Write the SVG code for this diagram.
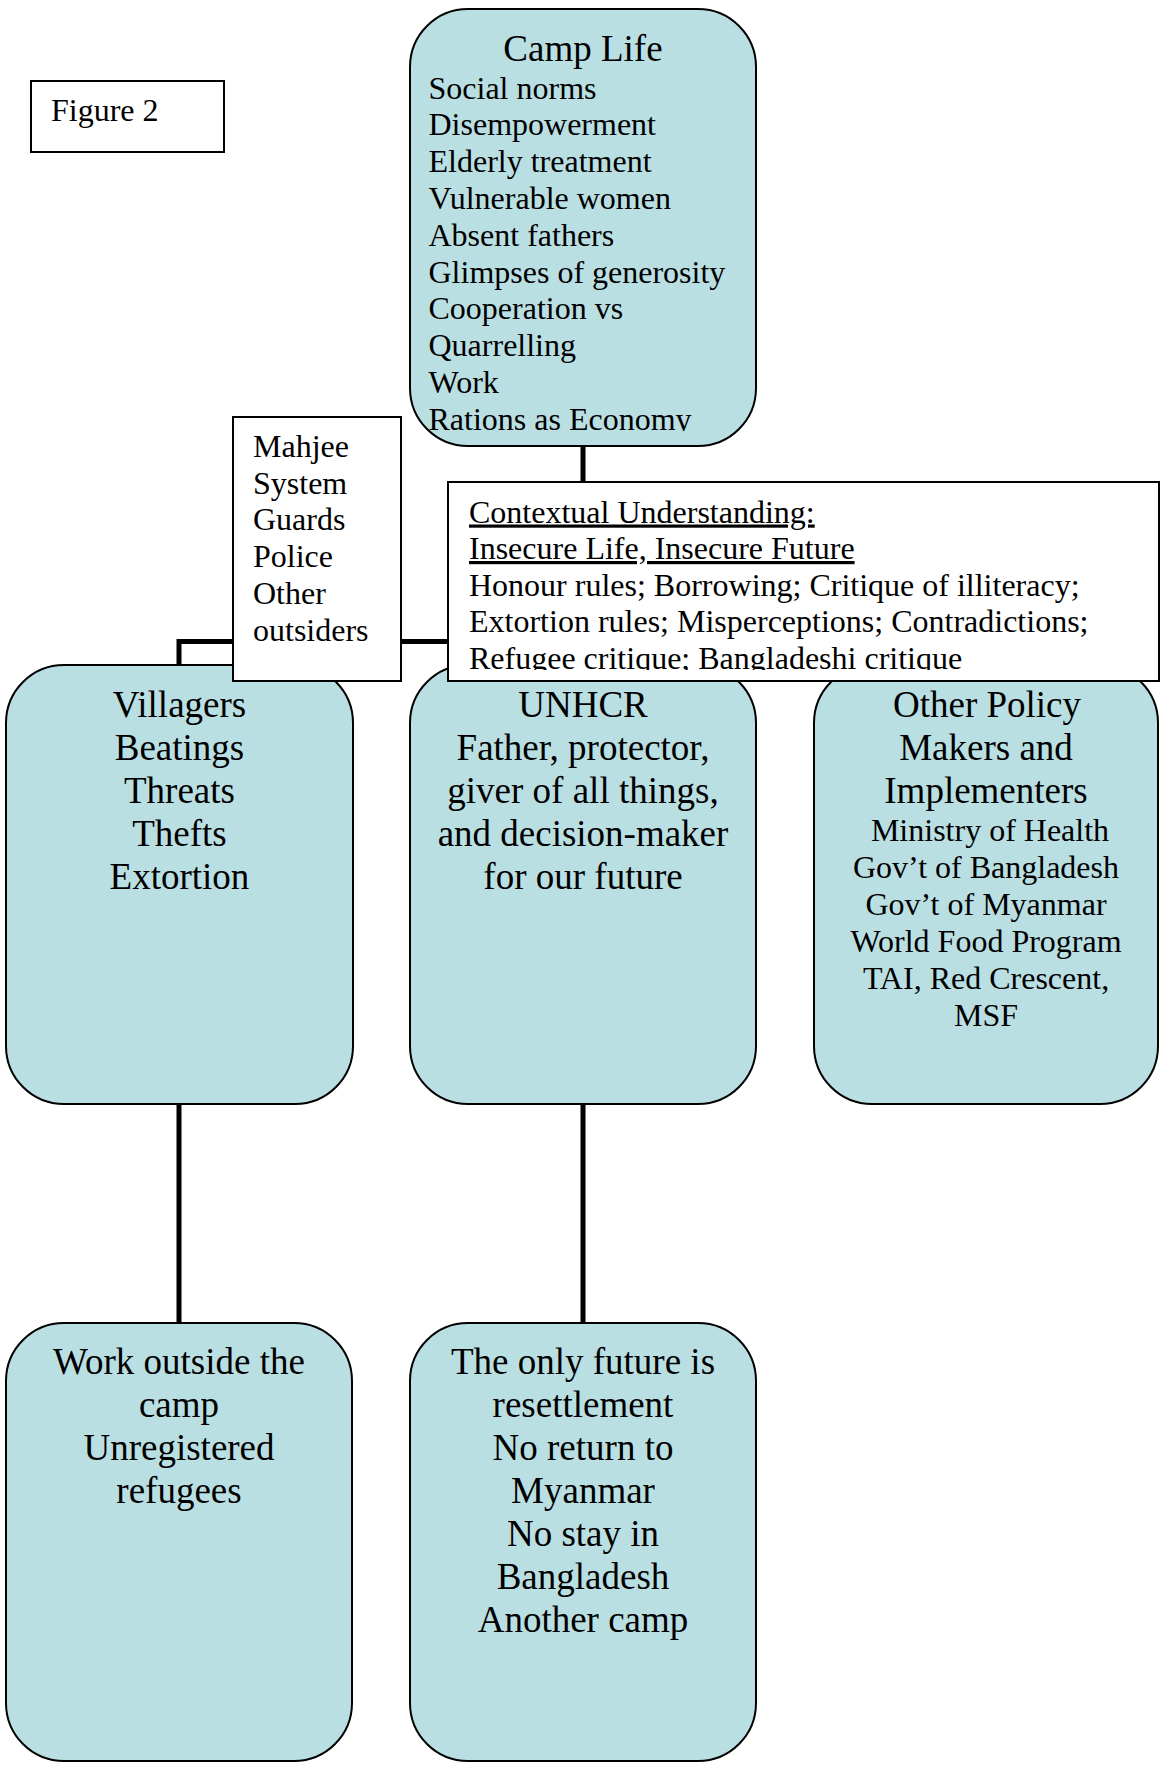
<svg xmlns="http://www.w3.org/2000/svg" width="1160" height="1765" viewBox="0 0 1160 1765">
<style>
text{font-family:"Liberation Serif","Times New Roman",serif;fill:#000}
.node{fill:#badfe3;stroke:#000;stroke-width:2}
.box{fill:#fff;stroke:#000;stroke-width:2}
.conn{fill:none;stroke:#000;stroke-width:5;stroke-linejoin:miter}
.s32{font-size:32px}
.s37{font-size:37px}
.mid{text-anchor:middle}
.u{text-decoration:underline}
</style>
<defs>
<clipPath id="clipCamp"><rect x="410" y="40" width="346" height="391"/></clipPath>
<clipPath id="clipCtx"><rect x="448" y="482" width="711" height="188"/></clipPath>
</defs>
<rect fill="#fff" x="0" y="0" width="1160" height="1765"/>

<g id="connectors">
<polyline class="conn" points="179,665 179,641.5 583,641.5"/>
<line class="conn" x1="583" y1="446" x2="583" y2="641.5"/>
<line class="conn" x1="179" y1="1104" x2="179" y2="1323"/>
<line class="conn" x1="583" y1="1104" x2="583" y2="1323"/>
</g>

<g id="figure-label">
<rect class="box" x="31" y="81" width="193" height="71"/>
<text class="s32" x="51" y="120.5">Figure 2</text>
</g>

<g id="camp-life">
<rect class="node" x="410" y="9" width="346" height="437" rx="58" ry="58"/>
<text class="s37 mid" x="583" y="61">Camp Life</text>
<g clip-path="url(#clipCamp)" class="s32">
<text x="428.5" y="98.5">Social norms</text>
<text x="428.5" y="135.3">Disempowerment</text>
<text x="428.5" y="172.1">Elderly treatment</text>
<text x="428.5" y="208.9">Vulnerable women</text>
<text x="428.5" y="245.7">Absent fathers</text>
<text x="428.5" y="282.5">Glimpses of generosity</text>
<text x="428.5" y="319.3">Cooperation vs</text>
<text x="428.5" y="356.1">Quarrelling</text>
<text x="428.5" y="392.9">Work</text>
<text x="428.5" y="429.7">Rations as Economy</text>
</g>
</g>

<g id="villagers">
<rect class="node" x="6" y="665" width="347" height="439" rx="58" ry="58"/>
<text class="s37 mid" x="179.5" y="716.5">Villagers</text>
<text class="s37 mid" x="179.5" y="759.5">Beatings</text>
<text class="s37 mid" x="179.5" y="802.5">Threats</text>
<text class="s37 mid" x="179.5" y="845.5">Thefts</text>
<text class="s37 mid" x="179.5" y="888.5">Extortion</text>
</g>

<g id="unhcr">
<rect class="node" x="410" y="665" width="346" height="439" rx="58" ry="58"/>
<text class="s37 mid" x="583" y="716.5">UNHCR</text>
<text class="s37 mid" x="583" y="759.5">Father, protector,</text>
<text class="s37 mid" x="583" y="802.5">giver of all things,</text>
<text class="s37 mid" x="583" y="845.5">and decision-maker</text>
<text class="s37 mid" x="583" y="888.5">for our future</text>
</g>

<g id="other-policy">
<rect class="node" x="814" y="665" width="344" height="439" rx="58" ry="58"/>
<text class="s37 mid" x="987" y="716.5">Other Policy</text>
<text class="s37 mid" x="986" y="759.5">Makers and</text>
<text class="s37 mid" x="986" y="802.5">Implementers</text>
<text class="s32 mid" x="990" y="840.5">Ministry of Health</text>
<text class="s32 mid" x="986" y="877.5">Gov’t of Bangladesh</text>
<text class="s32 mid" x="986" y="914.5">Gov’t of Myanmar</text>
<text class="s32 mid" x="986" y="951.5">World Food Program</text>
<text class="s32 mid" x="986" y="988.5">TAI, Red Crescent,</text>
<text class="s32 mid" x="986" y="1025.5">MSF</text>
</g>

<g id="mahjee">
<rect class="box" x="233" y="417" width="168" height="264"/>
<text class="s32" x="253" y="456.7">Mahjee</text>
<text class="s32" x="253" y="493.5">System</text>
<text class="s32" x="253" y="530.3">Guards</text>
<text class="s32" x="253" y="567.1">Police</text>
<text class="s32" x="253" y="603.9">Other</text>
<text class="s32" x="253" y="640.7">outsiders</text>
</g>

<g id="contextual">
<rect class="box" x="448" y="482" width="711" height="199"/>
<g clip-path="url(#clipCtx)" class="s32">
<text class="u" x="469" y="522.5">Contextual Understanding:</text>
<text class="u" x="469" y="559">Insecure Life, Insecure Future</text>
<text x="469" y="595.5">Honour rules; Borrowing; Critique of illiteracy;</text>
<text x="469" y="632">Extortion rules; Misperceptions; Contradictions;</text>
<text x="469" y="668.5">Refugee critique; Bangladeshi critique</text>
</g>
</g>

<g id="work-outside">
<rect class="node" x="6" y="1323" width="346" height="438" rx="58" ry="58"/>
<text class="s37 mid" x="179" y="1374">Work outside the</text>
<text class="s37 mid" x="179" y="1417">camp</text>
<text class="s37 mid" x="179" y="1460">Unregistered</text>
<text class="s37 mid" x="179" y="1503">refugees</text>
</g>

<g id="only-future">
<rect class="node" x="410" y="1323" width="346" height="438" rx="58" ry="58"/>
<text class="s37 mid" x="583" y="1374">The only future is</text>
<text class="s37 mid" x="583" y="1417">resettlement</text>
<text class="s37 mid" x="583" y="1460">No return to</text>
<text class="s37 mid" x="583" y="1503">Myanmar</text>
<text class="s37 mid" x="583" y="1546">No stay in</text>
<text class="s37 mid" x="583" y="1589">Bangladesh</text>
<text class="s37 mid" x="583" y="1632">Another camp</text>
</g>
</svg>
